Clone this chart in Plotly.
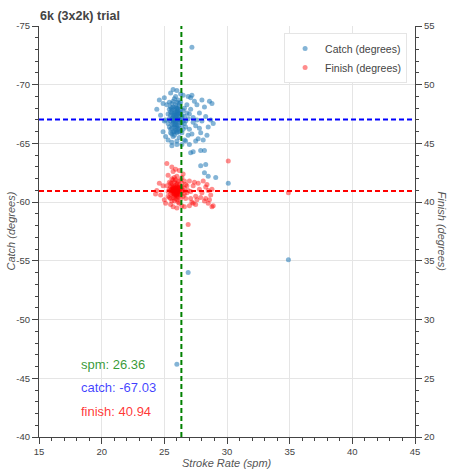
import plotly.graph_objects as go

# ---------------- data ----------------
catch_spm = [
    25.6, 25.9, 26.1, 25.7, 26.3, 25.5, 26.0, 26.4, 25.8, 26.2,
    25.4, 26.6, 25.9, 26.1, 25.6, 26.5, 25.3, 26.7, 25.8, 26.0,
    25.7, 26.3, 25.5, 26.8, 25.9, 26.2, 25.4, 26.4, 25.6, 26.1,
    25.8, 26.0, 25.7, 26.5, 25.5, 26.3, 25.9, 26.2, 25.6, 26.6,
    25.3, 26.9, 25.8, 26.1, 25.4, 26.7, 25.7, 26.4, 26.0, 25.9,
    25.2, 26.8, 25.6, 26.2, 25.5, 26.6, 25.8, 26.0, 26.3, 25.7,
    27.1, 27.3, 27.5, 27.0, 27.8, 27.6, 28.0, 27.2, 28.3, 27.4,
    27.9, 28.5, 27.7, 28.2, 28.7, 27.1, 28.4, 28.8, 27.5, 28.1,
    27.0, 27.3, 26.9, 27.6, 28.6, 28.0, 27.2, 28.9, 27.8, 26.9,
    24.4, 24.7, 24.9, 25.0, 24.6, 25.1, 25.0, 25.7, 26.0, 25.5,
    26.3, 25.9, 26.5, 24.9, 25.1, 25.3, 26.6, 26.0, 25.6, 26.4,
    25.6, 26.0, 26.7, 27.0, 27.1, 27.3, 27.9, 28.2, 27.9, 28.3,
    28.2, 28.5, 29.1, 30.1, 27.2, 26.9, 34.9, 26.0,
    25.9, 26.0, 25.7, 26.1, 25.8, 26.2, 25.6, 25.9, 26.3, 25.5,
    26.1, 25.8, 26.0, 25.7, 26.4, 25.6, 26.2, 25.9, 25.4, 26.5,
    25.8, 26.0, 25.7, 26.1, 25.5, 26.3, 25.9, 26.0, 25.6, 26.2,
    25.9, 26.1, 25.8, 26.0, 25.7, 26.2, 25.9, 26.0, 25.8, 26.1,
]
catch_deg = [
    -67.8, -67.2, -67.5, -66.9, -67.0, -67.4, -68.0, -66.6, -66.4, -68.2,
    -67.9, -67.3, -66.1, -66.8, -68.4, -67.8, -66.7, -66.9, -67.6, -65.9,
    -68.6, -68.5, -66.2, -67.6, -68.3, -66.3, -67.1, -67.4, -65.8, -67.1,
    -67.0, -66.6, -67.4, -66.2, -68.1, -67.9, -67.7, -67.6, -66.6, -68.0,
    -67.5, -67.1, -68.8, -68.7, -66.4, -66.4, -65.6, -65.9, -67.3, -66.8,
    -68.3, -68.3, -67.1, -65.5, -65.9, -66.7, -66.0, -68.5, -66.1, -68.1,
    -67.9, -67.2, -66.5, -66.2, -67.6, -68.3, -66.9, -65.8, -67.3, -68.6,
    -65.9, -66.4, -65.4, -68.1, -67.0, -68.9, -65.7, -68.4, -65.2, -65.3,
    -67.5, -66.8, -65.7, -67.0, -68.6, -68.7, -69.1, -66.7, -66.3, -69.0,
    -67.9, -67.4, -68.4, -66.9, -68.7, -67.0, -68.9, -69.6, -69.5, -69.3,
    -69.2, -69.0, -69.1, -66.0, -65.6, -65.3, -65.3, -65.2, -65.1, -64.9,
    -64.8, -64.9, -65.2, -64.9, -64.2, -64.3, -64.4, -64.4, -63.1, -63.2,
    -62.5, -62.2, -62.1, -61.6, -73.2, -54.0, -55.1, -46.2,
    -67.5, -67.0, -67.2, -66.5, -67.9, -67.3, -67.6, -66.3, -66.8, -66.9,
    -68.0, -66.6, -67.7, -66.0, -67.2, -66.3, -68.4, -68.1, -68.5, -66.9,
    -65.7, -66.0, -67.0, -67.8, -67.7, -67.6, -66.9, -66.4, -68.0, -66.0,
    -67.3, -67.6, -67.1, -67.4, -66.7, -67.0, -66.6, -67.9, -67.4, -66.2,
]

finish_spm = [
    25.9, 26.1, 25.7, 26.3, 25.5, 26.0, 25.8, 26.4, 25.6, 26.2,
    25.4, 26.6, 25.9, 26.1, 25.7, 26.5, 25.3, 26.7, 25.8, 26.0,
    25.6, 26.3, 25.5, 26.8, 25.9, 26.2, 25.4, 26.4, 25.7, 26.1,
    25.8, 26.0, 25.6, 26.3, 25.5, 26.6, 25.9, 26.2, 25.7, 26.5,
    25.3, 26.9, 25.8, 26.0, 25.4, 26.7, 25.6, 26.4, 26.0, 25.9,
    25.2, 26.8, 25.7, 26.1, 25.5, 26.6, 25.8, 26.0, 26.3, 25.6,
    27.1, 27.3, 27.5, 27.0, 27.8, 27.6, 28.0, 27.2, 28.3, 27.4,
    27.9, 28.5, 27.7, 28.2, 28.7, 27.1, 28.4, 28.8, 27.5, 28.1,
    28.5, 28.8, 28.3, 28.9, 28.6, 27.3, 27.0,
    24.4, 24.7, 24.9, 25.0, 24.6, 25.1, 24.3, 25.2, 25.6, 25.9,
    25.7, 26.2, 26.5, 25.3, 25.7, 26.4, 26.0, 25.5, 26.2, 26.6,
    30.1, 34.9, 26.9,
    25.9, 26.0, 25.8, 26.1, 25.7, 26.2, 25.9, 26.0, 25.8, 26.1,
    25.6, 26.3, 25.9, 26.0, 25.7, 26.2, 25.8, 26.1, 25.5, 26.4,
    25.9, 26.0, 25.8, 26.1, 25.7, 26.0, 25.9, 26.2, 25.8, 25.6,
]
finish_deg = [
    41.2, 40.8, 41.0, 41.3, 40.7, 41.6, 40.5, 40.9, 41.4, 40.6,
    41.1, 41.2, 40.3, 41.8, 40.4, 40.5, 40.9, 41.5, 41.7, 40.2,
    40.1, 41.9, 41.6, 40.8, 41.9, 41.1, 40.4, 41.6, 41.9, 40.4,
    41.0, 40.9, 40.8, 40.3, 41.3, 40.7, 40.7, 41.5, 40.7, 41.0,
    40.5, 41.0, 42.1, 42.2, 41.7, 40.3, 42.0, 42.1, 41.3, 40.9,
    41.4, 41.4, 41.2, 40.0, 40.3, 41.8, 40.1, 40.6, 40.7, 41.6,
    40.9, 41.4, 40.5, 41.8, 41.1, 40.2, 40.8, 40.0, 41.3, 41.7,
    40.4, 41.0, 41.6, 40.1, 40.6, 40.3, 41.5, 41.1, 39.8, 41.8,
    39.9, 39.6, 40.3, 39.7, 40.2, 39.9, 39.7,
    41.0, 40.6, 41.4, 40.2, 41.6, 39.9, 40.7, 43.3, 43.0, 42.8,
    42.6, 42.7, 42.4, 42.3, 39.6, 39.7, 39.5, 39.8, 39.9, 39.6,
    43.5, 40.8, 38.1,
    41.0, 41.1, 40.8, 41.2, 40.9, 40.9, 41.4, 40.5, 41.3, 40.7,
    41.0, 41.1, 40.6, 41.5, 41.1, 41.3, 40.7, 41.0, 41.0, 41.3,
    41.2, 40.8, 41.1, 40.9, 41.3, 40.7, 41.0, 41.2, 40.9, 41.1,
]

mean_spm = 26.36
mean_catch = -67.03
mean_finish = 40.94

title_text = "6k (3x2k) trial"
x_ticks = [15, 20, 25, 30, 35, 40, 45]
catch_ticks = [-75, -70, -65, -60, -55, -50, -45, -40]
finish_ticks = [20, 25, 30, 35, 40, 45, 50, 55]

# ---------------- figure ----------------
FONT = "Liberation Sans, Arial, Helvetica, sans-serif"
AXC = "#444444"
GRID = "#e5e5e5"

fig = go.Figure()
fig.add_trace(go.Scatter(
    x=catch_spm, y=catch_deg, mode="markers", name="Catch (degrees)",
    marker=dict(color="#1f77b4", size=5, opacity=0.55, line=dict(width=0)),
    yaxis="y",
))
fig.add_trace(go.Scatter(
    x=finish_spm, y=finish_deg, mode="markers", name="Finish (degrees)",
    marker=dict(color="red", size=5, opacity=0.45, line=dict(width=0)),
    yaxis="y2",
))

minor = dict(ticks="outside", ticklen=3, tickcolor=AXC, dtick=1, showgrid=False)

def axis_common(vals):
    return dict(
        tickvals=vals, ticktext=[str(v) for v in vals],
        zeroline=False, showline=True, linecolor=AXC, linewidth=1,
        ticks="outside", ticklen=6, tickcolor=AXC,
        tickfont=dict(size=9.5, color=AXC), minor=minor,
    )

fig.update_layout(
    width=450, height=473,
    margin=dict(l=39, r=35, t=26, b=36),
    paper_bgcolor="white", plot_bgcolor="white",
    font=dict(family=FONT, color=AXC),
    showlegend=True,
    legend=dict(
        x=0.979, y=0.983, xanchor="right", yanchor="top",
        bgcolor="white", bordercolor=GRID, borderwidth=1,
        font=dict(size=10.5, color="#444444", family=FONT),
    ),
    title=dict(
        text="<b>" + title_text + "</b>", x=40 / 450, xanchor="left",
        y=1 - 16 / 473, yanchor="middle", xref="container", yref="container",
        font=dict(size=12.5, color="#444444", family=FONT),
    ),
    xaxis=dict(range=[15, 45], showgrid=True, gridcolor=GRID, **axis_common(x_ticks)),
    yaxis=dict(range=[-40, -75], showgrid=True, gridcolor=GRID, **axis_common(catch_ticks)),
    yaxis2=dict(range=[20, 55], overlaying="y", side="right", showgrid=False,
                **axis_common(finish_ticks)),
)

# mean lines
fig.add_shape(type="line", xref="x", yref="paper", x0=mean_spm, x1=mean_spm,
              y0=0, y1=1, line=dict(color="green", width=2, dash="5px,3px"))
fig.add_shape(type="line", xref="paper", yref="y", x0=0, x1=1,
              y0=mean_catch, y1=mean_catch,
              line=dict(color="blue", width=2, dash="5px,3px"))
fig.add_shape(type="line", xref="paper", yref="y2", x0=0, x1=1,
              y0=mean_finish, y1=mean_finish,
              line=dict(color="red", width=2, dash="5px,3px"))

# axis titles
fig.add_annotation(text="<i>Catch (degrees)</i>", xref="paper", yref="paper",
                   x=0, y=0.5, xshift=-29, xanchor="center", yanchor="middle",
                   textangle=-90, showarrow=False,
                   font=dict(size=11, color="#555555", family=FONT))
fig.add_annotation(text="<i>Finish (degrees)</i>", xref="paper", yref="paper",
                   x=1, y=0.5, xshift=27, xanchor="center", yanchor="middle",
                   textangle=90, showarrow=False,
                   font=dict(size=11, color="#555555", family=FONT))
fig.add_annotation(text="<i>Stroke Rate (spm)</i>", xref="paper", yref="paper",
                   x=0.5, y=0, yshift=-26, xanchor="center", yanchor="middle",
                   showarrow=False,
                   font=dict(size=11, color="#555555", family=FONT))

# stats labels
def frac_y(py):
    return 1 - (py - 26) / 411

fig.add_annotation(text="spm: %.2f" % mean_spm, xref="paper", yref="paper",
                   x=(79 - 39) / 376, y=frac_y(364), xanchor="left", yanchor="middle",
                   showarrow=False, font=dict(size=13, color="rgba(0,128,0,0.8)", family=FONT))
fig.add_annotation(text="catch: %.2f" % mean_catch, xref="paper", yref="paper",
                   x=(79 - 39) / 376, y=frac_y(387), xanchor="left", yanchor="middle",
                   showarrow=False, font=dict(size=13, color="rgba(0,0,255,0.75)", family=FONT))
fig.add_annotation(text="finish: %.2f" % mean_finish, xref="paper", yref="paper",
                   x=(79 - 39) / 376, y=frac_y(411), xanchor="left", yanchor="middle",
                   showarrow=False, font=dict(size=13, color="rgba(255,0,0,0.8)", family=FONT))

fig.write_html("out.html", config={"displayModeBar": False},
               post_script="document.body.style.margin='0px';document.body.style.padding='0px';")
